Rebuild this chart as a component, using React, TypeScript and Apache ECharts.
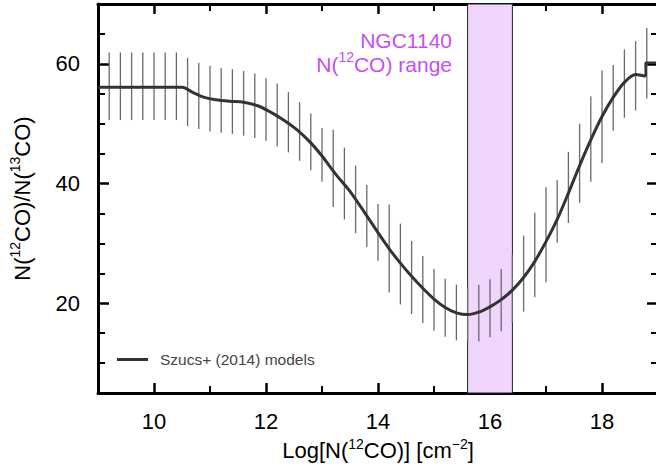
import { useEffect, useRef } from 'react';
import * as echarts from 'echarts';

const curveX = [9.0, 10.0, 10.5, 10.7, 10.9, 11.1, 11.35, 11.6, 11.85, 12.05, 12.3, 12.55, 12.8, 13.0, 13.25, 13.5, 13.75, 14.0, 14.2, 14.4, 14.6, 14.8, 15.0, 15.2, 15.4, 15.6, 15.8, 16.0, 16.2, 16.4, 16.6, 16.8, 17.0, 17.2, 17.4, 17.6, 17.8, 18.0, 18.2, 18.4, 18.6, 18.78];
const curveY = [56.1, 56.1, 56.1, 55.2, 54.4, 54.0, 53.75, 53.6, 53.0, 52.1, 50.7, 49.0, 46.8, 44.6, 41.5, 38.7, 35.3, 31.8, 29.1, 26.7, 24.5, 22.5, 20.7, 19.3, 18.4, 18.1, 18.5, 19.4, 20.6, 22.2, 24.3, 27.0, 30.3, 34.0, 38.4, 43.0, 47.3, 51.2, 54.4, 56.9, 58.2, 57.9];
const stepX = [18.78, 18.78, 19.0];
const stepY = [57.9, 60.2, 60.2];

const barX = [9.2, 9.4, 9.6, 9.8, 10.0, 10.2, 10.4, 10.6, 10.8, 11.0, 11.2, 11.4, 11.6, 11.8, 12.0, 12.2, 12.4, 12.6, 12.8, 13.0, 13.2, 13.4, 13.6, 13.8, 14.0, 14.2, 14.4, 14.6, 14.8, 15.0, 15.2, 15.4, 15.6, 15.8, 16.0, 16.2, 16.4, 16.6, 16.8, 17.0, 17.2, 17.4, 17.6, 17.8, 18.0, 18.2, 18.4, 18.6, 18.8];
const barHi = [61.9, 61.9, 61.9, 61.9, 61.9, 61.9, 61.9, 61.0, 60.2, 59.7, 59.3, 59.1, 58.8, 58.4, 57.6, 56.7, 55.3, 53.6, 51.7, 49.3, 49.0, 46.0, 43.0, 39.8, 36.6, 36.5, 33.3, 30.4, 27.9, 25.7, 24.1, 23.1, 22.7, 23.1, 24.0, 25.7, 28.1, 31.3, 35.1, 39.4, 40.6, 45.3, 50.0, 54.6, 58.9, 59.8, 62.4, 63.8, 66.0];
const barLo = [50.6, 50.6, 50.6, 50.6, 50.6, 50.6, 50.6, 49.6, 49.1, 48.7, 48.5, 48.3, 48.0, 47.6, 47.1, 46.2, 45.2, 43.8, 42.2, 40.3, 36.1, 34.0, 31.7, 29.4, 27.1, 21.8, 19.8, 18.2, 16.7, 15.4, 14.4, 13.8, 13.6, 13.6, 14.3, 15.3, 16.8, 18.6, 21.0, 23.5, 30.1, 33.4, 36.8, 40.3, 43.4, 48.8, 51.0, 52.2, 54.2];

const bandRange = [15.6, 16.4];
const xMin = 9;
const xMax = 19;
const yMin = 5;
const yMax = 70;
const xMajor = [10, 12, 14, 16, 18];
const xMinor = [11, 13, 15, 17];
const yMajor = [20, 40, 60];
const yMinor = [10, 15, 25, 30, 35, 45, 50, 55, 65];

const seriesName = 'Szucs+ (2014) models';
const FONT = '"Liberation Sans", Arial, Helvetica, sans-serif';
const PURPLE = '#c64ef2';

const richStyles = {
  n: { fontSize: 22, fontFamily: FONT, color: '#000' },
  s: { fontSize: 14, fontFamily: FONT, color: '#000', padding: [0, 0, 14, 0] },
};

function measure(text: string, size: number): number {
  const ctx = document.createElement('canvas').getContext('2d');
  if (!ctx) return text.length * size * 0.55;
  ctx.font = `${size}px ${FONT}`;
  return ctx.measureText(text).width;
}

function makeX(pos: string, ticks: number[], len: number, width: number, labels: boolean, showLine: boolean, extra: any = {}) {
  return {
    type: 'value',
    position: pos,
    min: xMin,
    max: xMax,
    offset: 0,
    splitLine: { show: false },
    axisLine: { show: showLine, onZero: false, lineStyle: { color: '#000', width: 3 } },
    axisTick: { show: true, inside: true, length: len, customValues: ticks, lineStyle: { color: '#000', width: width } },
    axisLabel: labels
      ? { show: true, customValues: ticks, margin: 17, fontSize: 22, fontFamily: FONT, color: '#000' }
      : { show: false },
    ...extra,
  };
}

function makeY(pos: string, ticks: number[], len: number, width: number, labels: boolean, showLine: boolean, extra: any = {}) {
  return {
    type: 'value',
    position: pos,
    min: yMin,
    max: yMax,
    offset: 0,
    splitLine: { show: false },
    axisLine: { show: showLine, onZero: false, lineStyle: { color: '#000', width: 3 } },
    axisTick: { show: true, inside: true, length: len, customValues: ticks, lineStyle: { color: '#000', width: width } },
    axisLabel: labels
      ? { show: true, customValues: ticks, margin: 18, fontSize: 22, fontFamily: FONT, color: '#000' }
      : { show: false },
    ...extra,
  };
}

export default function App() {
  const ref = useRef<HTMLDivElement>(null);
  useEffect(() => {
    if (!ref.current) return;
    const chart = echarts.init(ref.current, null, { renderer: 'svg' });
    const curveData = curveX.map((x, i) => [x, curveY[i]]);
    const stepData = stepX.map((x, i) => [x, stepY[i]]);
    const barData = barX.map((x, i) => [x, barHi[i], barLo[i]]);

    const fs = 21;
    const rightX = 452;
    const wTail = measure('CO) range', fs);
    const wSup = measure('12', 14);
    const line1Y = 40;
    const line2Y = 64.5;

    const option: any = {
      animation: false,
      backgroundColor: '#fff',
      grid: { left: 98, top: 4, right: -2, bottom: 74, containLabel: false, outerBoundsMode: 'none' },
      legend: {
        show: true,
        data: [{ name: seriesName, icon: 'rect' }],
        left: 117,
        top: 351.5,
        padding: 0,
        itemWidth: 31,
        itemHeight: 3,
        itemStyle: { color: '#333' },
        textStyle: { fontSize: 15.5, fontFamily: FONT, color: '#444', padding: [0, 0, 0, 7] },
      },
      xAxis: [
        makeX('bottom', xMajor, 10, 2.5, true, true, {
          name: '{n|Log[N(}{s|12}{n|CO)] [cm}{s|−2}{n|]}',
          nameLocation: 'middle',
          nameGap: 39,
          nameTextStyle: { rich: richStyles },
        }),
        makeX('bottom', xMinor, 7, 2, false, false),
        makeX('top', xMajor, 10, 2.5, false, true),
        makeX('top', xMinor, 7, 2, false, false),
      ],
      yAxis: [
        makeY('left', yMajor, 11, 2.5, true, true, {
          name: '{n|N(}{s|12}{n|CO)/N(}{s|13}{n|CO)}',
          nameLocation: 'middle',
          nameRotate: 90,
          nameGap: 62,
          nameTextStyle: { rich: richStyles },
        }),
        makeY('left', yMinor, 7, 2, false, false),
        makeY('right', yMajor, 11, 2.5, false, true),
        makeY('right', yMinor, 7, 2, false, false),
      ],
      graphic: [
        {
          type: 'text',
          x: rightX,
          y: line1Y,
          z: 10,
          style: { text: 'NGC1140', fill: PURPLE, fontSize: fs, fontFamily: FONT, align: 'right', verticalAlign: 'middle' },
        },
        {
          type: 'text',
          x: rightX,
          y: line2Y,
          z: 10,
          style: { text: 'CO) range', fill: PURPLE, fontSize: fs, fontFamily: FONT, align: 'right', verticalAlign: 'middle' },
        },
        {
          type: 'text',
          x: rightX - wTail,
          y: line2Y - 8,
          z: 10,
          style: { text: '12', fill: PURPLE, fontSize: 14, fontFamily: FONT, align: 'right', verticalAlign: 'middle' },
        },
        {
          type: 'text',
          x: rightX - wTail - wSup,
          y: line2Y,
          z: 10,
          style: { text: 'N(', fill: PURPLE, fontSize: fs, fontFamily: FONT, align: 'right', verticalAlign: 'middle' },
        },
      ],
      series: [
        {
          type: 'custom',
          name: 'band',
          xAxisIndex: 0,
          yAxisIndex: 0,
          z: 1,
          silent: true,
          data: [[bandRange[0], bandRange[1]]],
          encode: { x: [0, 1] },
          renderItem: (params: any, api: any) => {
            const p1 = api.coord([api.value(0), yMax]);
            const p2 = api.coord([api.value(1), yMin]);
            return {
              type: 'rect',
              shape: { x: p1[0], y: p1[1], width: p2[0] - p1[0], height: p2[1] - p1[1] },
              style: { fill: '#f0d6fc', stroke: '#222', lineWidth: 1 },
            };
          },
        },
        {
          type: 'custom',
          name: 'errors',
          xAxisIndex: 0,
          yAxisIndex: 0,
          z: 2,
          silent: true,
          data: barData,
          encode: { x: 0, y: [1, 2] },
          renderItem: (params: any, api: any) => {
            const p1 = api.coord([api.value(0), api.value(1)]);
            const p2 = api.coord([api.value(0), api.value(2)]);
            return {
              type: 'line',
              shape: { x1: p1[0], y1: p1[1], x2: p2[0], y2: p2[1] },
              style: { stroke: '#6a6a6a', lineWidth: 1.3 },
            };
          },
        },
        {
          type: 'line',
          name: seriesName,
          xAxisIndex: 0,
          yAxisIndex: 0,
          z: 3,
          data: curveData,
          smooth: 0.3,
          symbol: 'none',
          lineStyle: { color: '#333', width: 3 },
          itemStyle: { color: '#333' },
        },
        {
          type: 'line',
          name: 'step',
          xAxisIndex: 0,
          yAxisIndex: 0,
          z: 3,
          data: stepData,
          smooth: false,
          symbol: 'none',
          lineStyle: { color: '#333', width: 2.5 },
          itemStyle: { color: '#333' },
        },
      ],
    };
    chart.setOption(option);
    return () => chart.dispose();
  }, []);
  return <div ref={ref} style={{ position: 'fixed', left: 0, top: 0, width: 656, height: 467 }} />;
}
